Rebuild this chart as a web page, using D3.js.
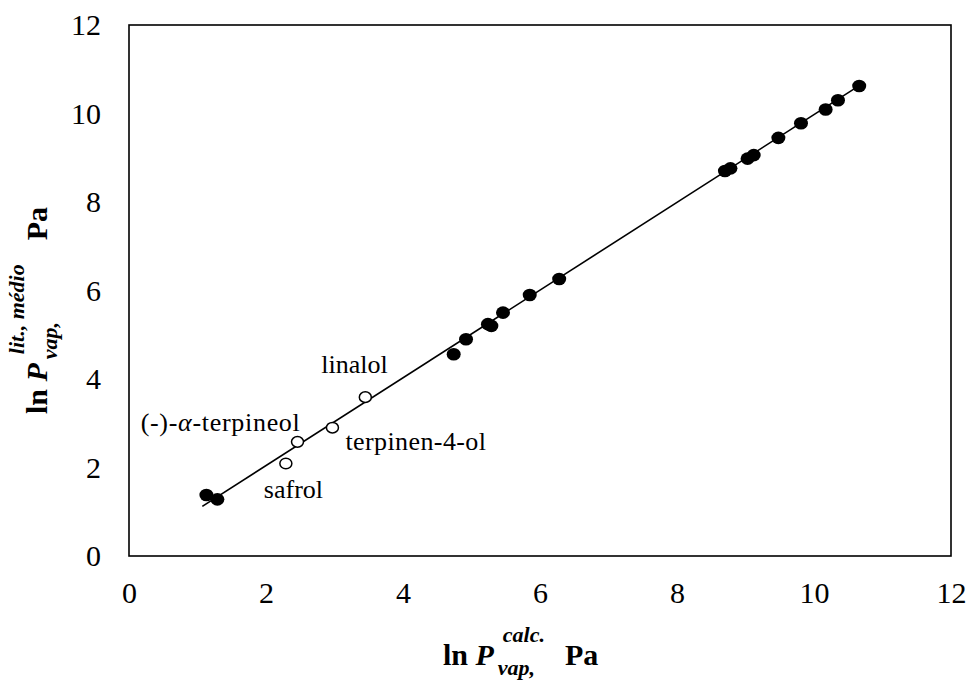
<!DOCTYPE html>
<html lang="en">
<head>
    <meta charset="UTF-8">
    <title>ln Pvap lit. vs calc.</title>
    <script src="https://d3js.org/d3.v7.min.js"></script>
    <style>
        body {
            margin: 0;
            background: #fff;
        }
    </style>
</head>
<body>
    <div id="chart"></div>
    <script>
        // filled points (ln P calc., ln P lit.)
        const filledCalc = [1.13, 1.29, 4.74, 4.92, 5.24, 5.29, 5.46, 5.85, 6.28, 8.70, 8.78, 9.03, 9.12, 9.48, 9.81, 10.17, 10.35, 10.66];
        const filledLit = [1.38, 1.28, 4.56, 4.90, 5.24, 5.20, 5.50, 5.90, 6.26, 8.70, 8.76, 8.98, 9.06, 9.45, 9.78, 10.09, 10.30, 10.62];

        // open points with names
        const openNames = ["safrol", "(-)-α-terpineol", "terpinen-4-ol", "linalol"];
        const openCalc = [2.29, 2.46, 2.97, 3.45];
        const openLit = [2.09, 2.58, 2.90, 3.59];

        // fitted line ends
        const fitCalc = [1.07, 10.66];
        const fitLit = [1.12, 10.63];

        const xTicks = [0, 2, 4, 6, 8, 10, 12];
        const yTicks = [0, 2, 4, 6, 8, 10, 12];

        const FONT = "'Liberation Serif', 'Times New Roman', serif";

        const W = 972, H = 680;
        const margin = { top: 25, right: 21, bottom: 124, left: 129 };
        const width = W - margin.left - margin.right;
        const height = H - margin.top - margin.bottom;

        const root = d3.select("#chart")
            .append("svg")
            .attr("width", W)
            .attr("height", H)
            .style("font-family", FONT);

        const svg = root.append("g")
            .attr("transform", `translate(${margin.left},${margin.top})`);

        const x = d3.scaleLinear().domain([0, 12]).range([0, width]);
        const y = d3.scaleLinear().domain([0, 12]).range([height, 0]);

        // axes (labels only, frame drawn below)
        const xAxis = svg.append("g")
            .attr("transform", `translate(0,${height})`)
            .call(d3.axisBottom(x).tickValues(xTicks).tickSize(0).tickPadding(26));
        xAxis.select(".domain").remove();

        const yAxis = svg.append("g")
            .call(d3.axisLeft(y).tickValues(yTicks).tickSize(0).tickPadding(28));
        yAxis.select(".domain").remove();

        svg.selectAll(".tick text")
            .style("font-family", FONT)
            .style("font-size", "30px")
            .attr("fill", "#000");

        // frame
        svg.append("rect")
            .attr("x", 0)
            .attr("y", 0)
            .attr("width", width)
            .attr("height", height)
            .attr("fill", "none")
            .attr("stroke", "#000")
            .attr("stroke-width", 1.6);

        // fit line
        const fitData = fitCalc.map((c, i) => ({ c: c, l: fitLit[i] }));
        svg.append("path")
            .datum(fitData)
            .attr("fill", "none")
            .attr("stroke", "#000")
            .attr("stroke-width", 1.6)
            .attr("d", d3.line().x(d => x(d.c)).y(d => y(d.l)));

        // filled points
        const filled = filledCalc.map((c, i) => ({ c: c, l: filledLit[i] }));
        svg.selectAll(".dot")
            .data(filled)
            .enter()
            .append("ellipse")
            .attr("class", "dot")
            .attr("cx", d => x(d.c))
            .attr("cy", d => y(d.l))
            .attr("rx", 7)
            .attr("ry", 6.3)
            .attr("fill", "#000");

        // open points
        const open = openCalc.map((c, i) => ({ name: openNames[i], c: c, l: openLit[i] }));
        svg.selectAll(".open")
            .data(open)
            .enter()
            .append("ellipse")
            .attr("class", "open")
            .attr("cx", d => x(d.c))
            .attr("cy", d => y(d.l))
            .attr("rx", 6)
            .attr("ry", 5.3)
            .attr("fill", "#fff")
            .attr("stroke", "#000")
            .attr("stroke-width", 1.5);

        // label placement relative to its point
        const labelPos = {
            "safrol": { dx: -22, dy: 34, anchor: "start", ls: 0 },
            "(-)-α-terpineol": { dx: 3, dy: -11, anchor: "end", ls: 0.7 },
            "terpinen-4-ol": { dx: 13, dy: 22, anchor: "start", ls: 0.4 },
            "linalol": { dx: -44, dy: -24, anchor: "start", ls: 0 }
        };

        open.forEach(d => {
            const p = labelPos[d.name];
            const t = svg.append("text")
                .style("font-family", FONT)
                .style("font-size", "26px")
                .style("letter-spacing", p.ls + "px")
                .attr("x", x(d.c) + p.dx)
                .attr("y", y(d.l) + p.dy)
                .attr("text-anchor", p.anchor);
            if (d.name.includes("α")) {
                const parts = d.name.split("α");
                t.append("tspan").text(parts[0]);
                t.append("tspan").style("font-style", "italic").text("α");
                t.append("tspan").text(parts[1]);
            } else {
                t.text(d.name);
            }
        });

        // axis titles: ln P with stacked super/subscript, then Pa
        function drawTitle(g, sup, sub, gap) {
            const main = g.append("text")
                .style("font-family", FONT).style("font-size", "30px").style("font-weight", "bold")
                .attr("x", 0).attr("y", 0);
            main.append("tspan").text("ln ");
            main.append("tspan").style("font-style", "italic").text("P");
            const w1 = main.node().getComputedTextLength();

            const script = (txt, dx, dy) => g.append("text")
                .style("font-family", FONT).style("font-size", "22px")
                .style("font-weight", "bold").style("font-style", "italic")
                .attr("x", w1 + dx).attr("y", dy).text(txt);

            const supT = script(sup, 9, -23);
            const subT = script(sub, 4, 10);

            const w2 = Math.max(w1 + 9 + supT.node().getComputedTextLength(),
                                w1 + 4 + subT.node().getComputedTextLength());
            g.append("text")
                .style("font-family", FONT).style("font-size", "30px").style("font-weight", "bold")
                .attr("x", w2 + gap).attr("y", 0).text("Pa");
        }

        drawTitle(root.append("g").attr("transform", "translate(443,665)"), "calc.", "vap,", 20);
        drawTitle(root.append("g").attr("transform", "translate(47,414) rotate(-90)"), "lit., médio", "vap,", 24);
    </script>
</body>
</html>
